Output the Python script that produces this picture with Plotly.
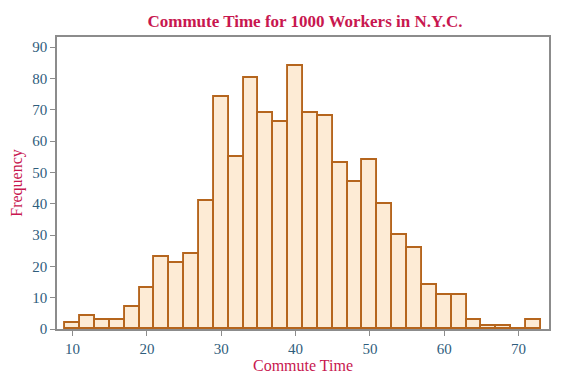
import plotly.graph_objects as go

bin_left = [9, 11, 13, 15, 17, 19, 21, 23, 25, 27, 29, 31, 33, 35, 37, 39,
            41, 43, 45, 47, 49, 51, 53, 55, 57, 59, 61, 63, 65, 67, 69, 71]
bin_width = 2
counts = [2, 4, 3, 3, 7, 13, 23, 21, 24, 41, 74, 55, 80, 69, 66, 84,
          69, 68, 53, 47, 54, 40, 30, 26, 14, 11, 11, 3, 1, 1, 0, 3]
x_ticks = [10, 20, 30, 40, 50, 60, 70]
y_ticks = [0, 10, 20, 30, 40, 50, 60, 70, 80, 90]

centers = [b + bin_width / 2 for b in bin_left]

FONT = "Liberation Serif"
TICK_COLOR = "#2f5d7c"
TITLE_COLOR = "#c8174f"
FRAME = "#8c8c8c"

# the page body has an 8px margin, so the figure is 8px smaller and shifted
W, H = 553, 371

fig = go.Figure(go.Bar(
    x=centers, y=counts, width=bin_width,
    marker=dict(color="#fdebd5", line=dict(color="#b5651d", width=1.9)),
))

fig.update_layout(
    width=W, height=H,
    margin=dict(l=49, r=12, t=29, b=50, autoexpand=False),
    paper_bgcolor="white", plot_bgcolor="white",
    showlegend=False,
    bargap=0,
    title=dict(text="<b>Commute Time for 1000 Workers in N.Y.C.</b>",
               x=297 / W, xanchor="center", y=1 - 13 / H, yanchor="middle",
               font=dict(family=FONT, size=17, color=TITLE_COLOR)),
    font=dict(family=FONT),
)
fig.update_xaxes(
    range=[7.9, 74.1], tickvals=x_ticks, showgrid=False, zeroline=False,
    showline=True, linecolor=FRAME, linewidth=1.5, mirror=True,
    ticks="outside", ticklen=5, tickcolor=FRAME, tickwidth=1,
    tickfont=dict(family=FONT, size=15, color=TICK_COLOR),
    automargin=False,
    title=dict(text="Commute Time", font=dict(family=FONT, size=16, color=TITLE_COLOR), standoff=0),
)
fig.update_yaxes(
    range=[0, 93.2], tickvals=y_ticks, showgrid=False, zeroline=False,
    showline=True, linecolor=FRAME, linewidth=1.5, mirror=True,
    ticks="outside", ticklen=5, tickcolor=FRAME, tickwidth=1,
    tickfont=dict(family=FONT, size=15, color=TICK_COLOR),
    automargin=False,
    title=dict(text="Frequency", font=dict(family=FONT, size=16, color=TITLE_COLOR), standoff=6),
)

fig.write_html("out.html")
